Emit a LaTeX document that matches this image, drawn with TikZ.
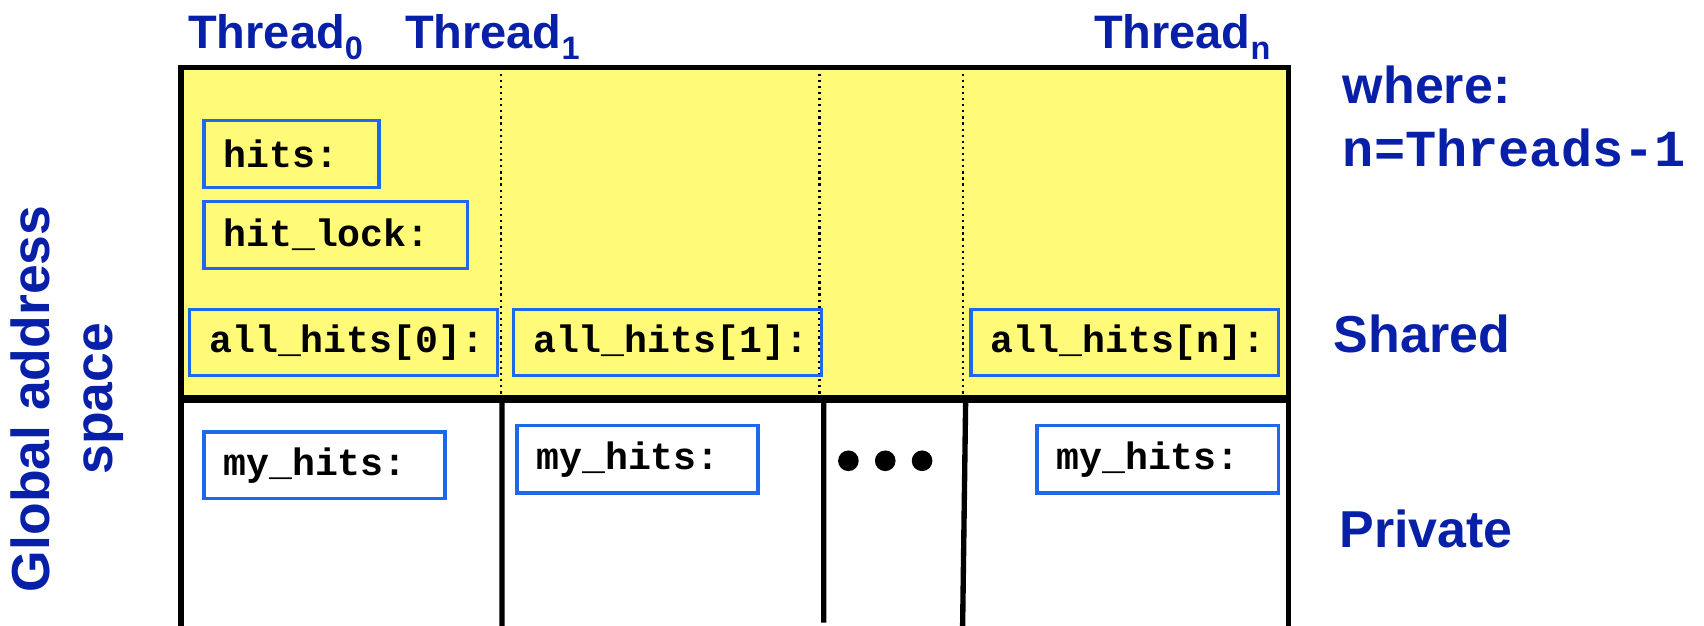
\documentclass[tikz,border=0pt]{standalone}
\usepackage{fontspec}
\setmainfont{Liberation Sans}
\newfontfamily\codefont{Liberation Mono}
\usepackage{tikz}
\definecolor{labelblue}{RGB}{8,32,168}
\definecolor{cellblue}{RGB}{30,105,235}
\definecolor{sharedyellow}{RGB}{255,250,120}
\newcommand{\thr}[1]{Thread\raisebox{-3pt}{\fontsize{8.5}{10}\selectfont #1}}

\begin{document}
\begin{tikzpicture}[x=0.1mm,y=-0.1mm,
  cell/.style={draw=cellblue,line width=0.9pt,anchor=north west,align=left,inner xsep=1.8mm,
    font=\codefont\bfseries\fontsize{10}{12}\selectfont},
  thrlabel/.style={anchor=base west,text=labelblue,inner sep=0pt,font=\bfseries\fontsize{12.3}{14}\selectfont},
  side/.style={anchor=base west,text=labelblue,inner sep=0pt,font=\bfseries\fontsize{13.6}{16}\selectfont}]
\useasboundingbox (0,0) rectangle (1568,576);
\fill[sharedyellow] (166,62) rectangle (1185,367);
\draw[densely dotted,line width=0.6pt] (461,62)--(461,367) (754,62)--(754,367) (886,62)--(886,367);
\draw[line width=1.4pt] (462,367)--(462,576) (758,367)--(758,573) (888.6,367)--(885.8,576);
\draw[line width=1.4pt] (166.5,576)--(166.5,62)--(1185.5,62)--(1185.5,576);
\draw[line width=2.1pt] (166.5,367)--(1185.5,367);

\node[thrlabel] (t0) at (172.5,44.5) {\thr{0}};
\node[thrlabel] (t1) at (372,44.5) {\thr{1}};
\node[thrlabel] (tn) at (1006,44.5) {\thr{n}};

\node[cell,text width=12.5mm,minimum height=6.15mm] (hits) at (186,109.5) {hits:};
\node[cell,text width=20.65mm,minimum height=6.15mm] (hitlock) at (186,184) {hit\_lock:};
\node[cell,text width=24.7mm,minimum height=6.1mm] (all0) at (173,283) {all\_hits[0]:};
\node[cell,text width=24.75mm,minimum height=6.1mm] (all1) at (471,283) {all\_hits[1]:};
\node[cell,text width=24.7mm,minimum height=6.1mm] (alln) at (892,283) {all\_hits[n]:};
\node[cell,text width=18.6mm,minimum height=6.1mm] (my0) at (186,396) {my\_hits:};
\node[cell,text width=18.6mm,minimum height=6.2mm] (my1) at (474,390) {my\_hits:};
\node[cell,text width=18.65mm,minimum height=6.2mm] (myn) at (952.5,390) {my\_hits:};

\foreach \dx in {780.7,814.6,848.5}
  \fill (\dx,424) circle[radius=0.95mm];

\node[side] (where) at (1235,95) {where:};
\node[side,font=\codefont\bfseries\fontsize{13.6}{16}\selectfont] (nval) at (1235,153) {n=Threads-1};
\node[side] (shared) at (1226.7,324) {Shared};
\node[side] (private) at (1232,504) {Private};
\node[rotate=90,align=center,text=labelblue,inner sep=0pt,font=\bfseries\fontsize{14}{16.5}\selectfont] (global) at (62,367) {Global address\\space};
\end{tikzpicture}
\end{document}
